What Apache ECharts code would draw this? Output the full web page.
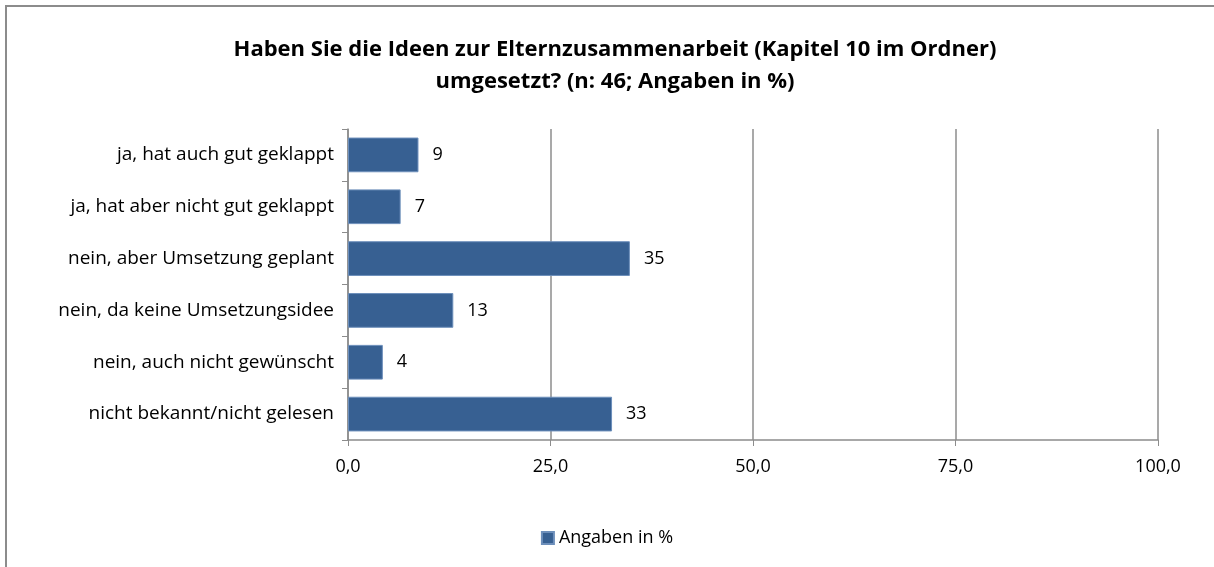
<!DOCTYPE html>
<html>
<head>
<meta charset="utf-8">
<script src="https://cdn.jsdelivr.net/npm/echarts@6/dist/echarts.min.js"></script>
<style>
html, body { margin: 0; padding: 0; background: #fff; }
#chart { width: 1214px; height: 567px; }
</style>
</head>
<body>
<div id="chart"></div>
<script>
// Kategorien (von oben nach unten)
var kategorien = [
    'ja, hat auch gut geklappt',
    'ja, hat aber nicht gut geklappt',
    'nein, aber Umsetzung geplant',
    'nein, da keine Umsetzungsidee',
    'nein, auch nicht gewünscht',
    'nicht bekannt/nicht gelesen'
];
// Angaben in %
var werte = [8.7, 6.5, 34.8, 13.0, 4.3, 32.6];
// x-Achse Ticks
var xTicks = [0, 25, 50, 75, 100];

var font = '"Open Sans", "Noto Sans", sans-serif';
var chart = echarts.init(document.getElementById('chart'));

var option = {
    animation: false,
    title: {
        text: 'Haben Sie die Ideen zur Elternzusammenarbeit (Kapitel 10 im Ordner)\numgesetzt? (n: 46; Angaben in %)',
        left: 610,
        textAlign: 'center',
        top: 29,
        textStyle: {
            fontFamily: font,
            fontSize: 22,
            fontWeight: 'bold',
            color: '#000',
            lineHeight: 32
        }
    },
    graphic: [{
        type: 'rect',
        shape: { x: 6, y: 6, width: 1230, height: 600 },
        style: { fill: 'none', stroke: '#8c8c8c', lineWidth: 2 },
        silent: true
    }],
    legend: {
        data: ['Angaben in %'],
        bottom: 15,
        left: 'center',
        itemWidth: 12,
        itemHeight: 12,
        itemGap: 4,
        icon: 'rect',
        textStyle: { fontFamily: font, fontSize: 18, color: '#000' }
    },
    grid: {
        left: 348,
        right: 56,
        top: 129,
        bottom: 127,
        containLabel: false
    },
    xAxis: {
        type: 'value',
        min: 0,
        max: 100,
        interval: 25,
        axisLine: { show: true, lineStyle: { color: '#8c8c8c', width: 1.5 } },
        axisTick: { show: true, length: 6, lineStyle: { color: '#8c8c8c' } },
        axisLabel: {
            margin: 18,
            fontFamily: font,
            fontSize: 18,
            color: '#000',
            formatter: function (v) {
                return xTicks.indexOf(v) >= 0 ? v.toFixed(1).replace('.', ',') : '';
            }
        },
        splitLine: { show: true, lineStyle: { color: '#8c8c8c', width: 1.5 } }
    },
    yAxis: {
        type: 'category',
        inverse: true,
        data: kategorien,
        axisLine: { show: true, lineStyle: { color: '#8c8c8c', width: 1.5 } },
        axisTick: { show: true, length: 6, lineStyle: { color: '#8c8c8c' } },
        axisLabel: {
            margin: 14,
            fontFamily: font,
            fontSize: 19,
            color: '#000'
        }
    },
    series: [{
        name: 'Angaben in %',
        type: 'bar',
        data: werte,
        barCategoryGap: '33%',
        itemStyle: {
            color: '#376092',
            borderColor: '#6d8fbb',
            borderWidth: 1
        },
        label: {
            show: true,
            position: 'right',
            distance: 14,
            fontFamily: font,
            fontSize: 18,
            color: '#000',
            formatter: function (p) {
                return Math.round(p.value);
            }
        }
    }]
};
chart.setOption(option);
</script>
</body>
</html>
